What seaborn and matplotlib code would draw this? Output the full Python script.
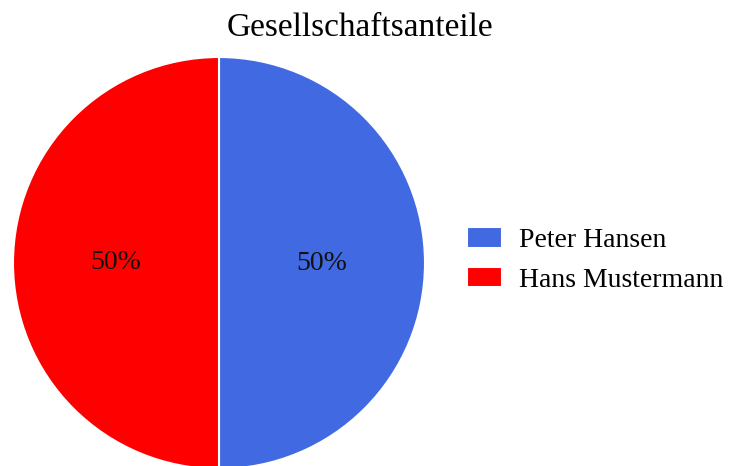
import matplotlib
matplotlib.use("Agg")
import matplotlib.pyplot as plt
import seaborn as sns

labels = ["Peter Hansen", "Hans Mustermann"]
shares = [50, 50]
colors = ["#4169E1", "#FF0000"]
title = "Gesellschaftsanteile"

sns.set_theme(style="white")
plt.rcParams["font.family"] = ["Liberation Serif", "DejaVu Serif"]

W, H = 729, 466
fig = plt.figure(figsize=(W / 100, H / 100), dpi=100)
r = 206
cx, cy = 219, 263
ax = fig.add_axes([(cx - r) / W, (H - cy - r) / H, 2 * r / W, 2 * r / H])
wedges, texts, autotexts = ax.pie(
    shares, colors=colors, startangle=90, counterclock=False,
    autopct="%d%%", pctdistance=0.5,
    wedgeprops=dict(edgecolor="white", linewidth=1.5),
    textprops=dict(fontsize=20, color="#111111"),
)
ax.set_xlim(-1, 1)
ax.set_ylim(-1, 1)
ax.set_aspect("equal")
ax.axis("off")

fig.text(360 / W, 1 - 28 / H, title, ha="center", va="center", fontsize=24, color="black")

leg = fig.legend(wedges, labels, loc="center left", bbox_to_anchor=(467 / W, 1 - 260 / H),
                 frameon=False, fontsize=20, handlelength=1.26, handleheight=0.75,
                 handletextpad=0.6, labelspacing=0.5, borderpad=0, borderaxespad=0)
for t in leg.get_texts():
    t.set_color("black")

fig.savefig("out.png", dpi=100)
